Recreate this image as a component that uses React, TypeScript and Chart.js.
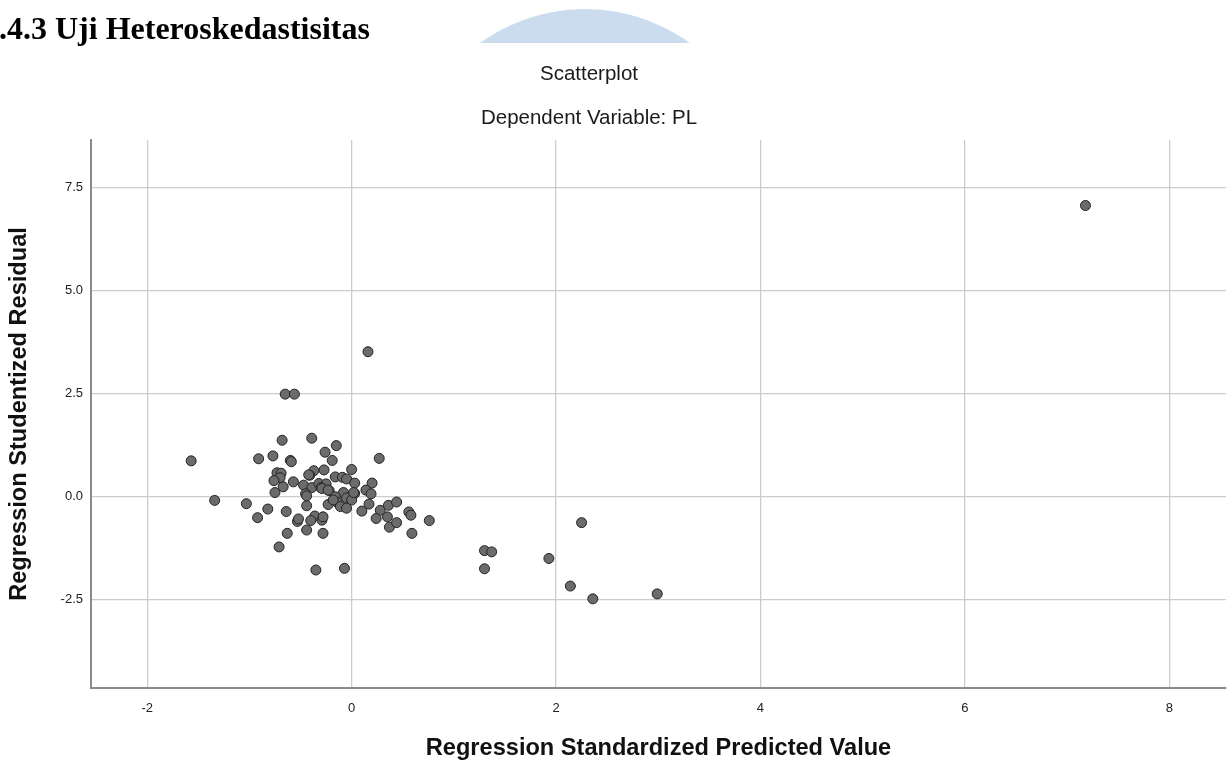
import React, { useEffect, useRef } from "react";
import { Chart, registerables } from "chart.js";

Chart.register(...registerables);

const headingText = ".4.3 Uji Heteroskedastisitas";
const chartTitle = "Scatterplot";
const chartSubtitle = "Dependent Variable: PL";
const xAxisTitle = "Regression Standardized Predicted Value";
const yAxisTitle = "Regression Studentized Residual";

const xTickValues = [-2, 0, 2, 4, 6, 8];
const yTickValues = [-2.5, 0, 2.5, 5, 7.5];

const predictedValues = [
  0.16, -0.65, -0.56, -0.68, -0.39, -0.15, -0.26, -0.19, 0.27, -1.57,
  -0.91, -0.77, -0.6, -0.59, 0.0, -0.27, -0.37, -0.41, -0.16, -0.09,
  -0.05, -0.73, -0.69, -0.7, -0.76, -0.67, -0.57, -0.47, -0.39, -0.32,
  -0.25, -0.3, -0.22, 0.03, 0.2, 0.14, 0.19, 0.03, -0.08, -0.75,
  -0.45, -0.44, -0.16, -0.05, 0.0, -0.23, -0.14, -0.11, -0.05, 0.17,
  0.1, -0.44, -1.34, -1.03, -0.82, -0.92, -0.64, -0.36, -0.29, -0.4,
  -0.53, -0.44, -0.63, -0.28, -0.71, -0.35, -0.07, 0.28, 0.36, 0.44,
  0.24, 0.35, 0.37, 0.44, 0.56, 0.58, 0.59, 0.76, 1.3, 1.37,
  1.3, 1.93, 2.25, 2.14, 2.36, 2.99, 7.18, -0.29, -0.18, -0.23,
  0.02, -0.42, -0.52, -0.28,
];

const studentizedResiduals = [
  3.52, 2.49, 2.49, 1.37, 1.42, 1.24, 1.08, 0.88, 0.93, 0.87,
  0.92, 0.99, 0.88, 0.85, 0.66, 0.65, 0.63, 0.52, 0.48, 0.47,
  0.43, 0.58, 0.57, 0.46, 0.39, 0.24, 0.36, 0.28, 0.22, 0.32,
  0.31, 0.22, 0.15, 0.33, 0.33, 0.16, 0.07, 0.08, 0.1, 0.1,
  0.07, 0.02, 0.0, -0.03, -0.08, -0.19, -0.14, -0.24, -0.28, -0.18,
  -0.35, -0.22, -0.09, -0.17, -0.3, -0.51, -0.36, -0.47, -0.57, -0.58,
  -0.6, -0.81, -0.89, -0.89, -1.22, -1.78, -1.74, -0.33, -0.21, -0.13,
  -0.53, -0.49, -0.74, -0.63, -0.37, -0.45, -0.89, -0.58, -1.31, -1.34,
  -1.75, -1.5, -0.63, -2.17, -2.48, -2.36, 7.07, 0.2, -0.08, 0.16,
  0.1, 0.53, -0.54, -0.49,
];

const sans = "'Liberation Sans', Arial, Helvetica, sans-serif";

const titlesPlugin = {
  id: "spssTitles",
  afterDraw(chart: any) {
    const ctx = chart.ctx;
    ctx.save();
    ctx.fillStyle = "#1a1a1a";
    ctx.font = `normal 20.5px ${sans}`;
    ctx.textAlign = "center";
    ctx.textBaseline = "middle";
    ctx.fillText(chartTitle, 589, 74);
    ctx.fillText(chartSubtitle, 589, 118);
    ctx.restore();
  },
};

export default function App() {
  const canvasRef = useRef<HTMLCanvasElement | null>(null);

  useEffect(() => {
    document.body.style.margin = "0";
    const canvas = canvasRef.current;
    if (!canvas) return;
    const points = predictedValues.map((x, i) => ({ x, y: studentizedResiduals[i] }));
    const chart = new Chart(canvas, {
      type: "scatter",
      data: {
        datasets: [
          {
            data: points,
            backgroundColor: "#6b6b6b",
            borderColor: "#232323",
            borderWidth: 1,
            pointRadius: 5,
            pointHoverRadius: 5,
          },
        ],
      },
      plugins: [titlesPlugin],
      options: {
        responsive: false,
        animation: false,
        events: [],
        layout: { autoPadding: false, padding: { top: 140, left: 0, right: 1, bottom: 0 } },
        plugins: {
          legend: { display: false },
          tooltip: { enabled: false },
          title: { display: false },
        },
        scales: {
          x: {
            type: "linear",
            min: -2.55,
            max: 8.555,
            afterBuildTicks: (scale: any) => {
              scale.ticks = xTickValues.map((v) => ({ value: v }));
            },
            afterFit: (scale: any) => {
              scale.height = 75;
            },
            ticks: {
              color: "#222",
              font: { family: sans, size: 13 },
              padding: 12.5,
              callback: (v: any) => String(v),
            },
            grid: { color: "#cccccc", lineWidth: 1.3, drawTicks: false },
            border: { display: true, color: "#8a8a8a", width: 2 },
            title: {
              display: true,
              text: xAxisTitle,
              color: "#111",
              font: { family: sans, size: 23.6, weight: "bold", lineHeight: 1.2 },
              padding: { top: 0, bottom: 0 },
            },
          },
          y: {
            type: "linear",
            min: -4.645,
            max: 8.66,
            afterBuildTicks: (scale: any) => {
              scale.ticks = yTickValues.map((v) => ({ value: v }));
            },
            afterFit: (scale: any) => {
              scale.width = 91;
            },
            ticks: {
              color: "#222",
              font: { family: sans, size: 13 },
              padding: 8,
              callback: (v: any) => Number(v).toFixed(1),
            },
            grid: { color: "#cccccc", lineWidth: 1.3, drawTicks: false },
            border: { display: true, color: "#8a8a8a", width: 2 },
            title: {
              display: true,
              text: yAxisTitle,
              color: "#111",
              font: { family: sans, size: 23.6, weight: "bold", lineHeight: 1.2 },
              padding: { top: 5.8, bottom: 0 },
            },
          },
        },
      },
    });
    return () => chart.destroy();
  }, []);

  return (
    <div style={{ position: "absolute", left: 0, top: 0, width: 1227, height: 763, background: "#fff", overflow: "hidden" }}>
      <canvas ref={canvasRef} width={1227} height={763} style={{ position: "absolute", left: 0, top: 0, width: 1227, height: 763 }} />
      <div style={{ position: "absolute", left: 0, top: 0, width: 1227, height: 43, overflow: "hidden" }}>
        <div
          style={{
            position: "absolute",
            left: 585 - 179,
            top: 9,
            width: 358,
            height: 358,
            borderRadius: "50%",
            background: "#cbdcee",
          }}
        />
      </div>
      <div
        style={{
          position: "absolute",
          left: -1,
          top: 12,
          fontFamily: "'Liberation Serif', 'Times New Roman', serif",
          fontWeight: "bold",
          fontSize: 32,
          lineHeight: "32px",
          color: "#000",
          whiteSpace: "nowrap",
        }}
      >
        {headingText}
      </div>
    </div>
  );
}
